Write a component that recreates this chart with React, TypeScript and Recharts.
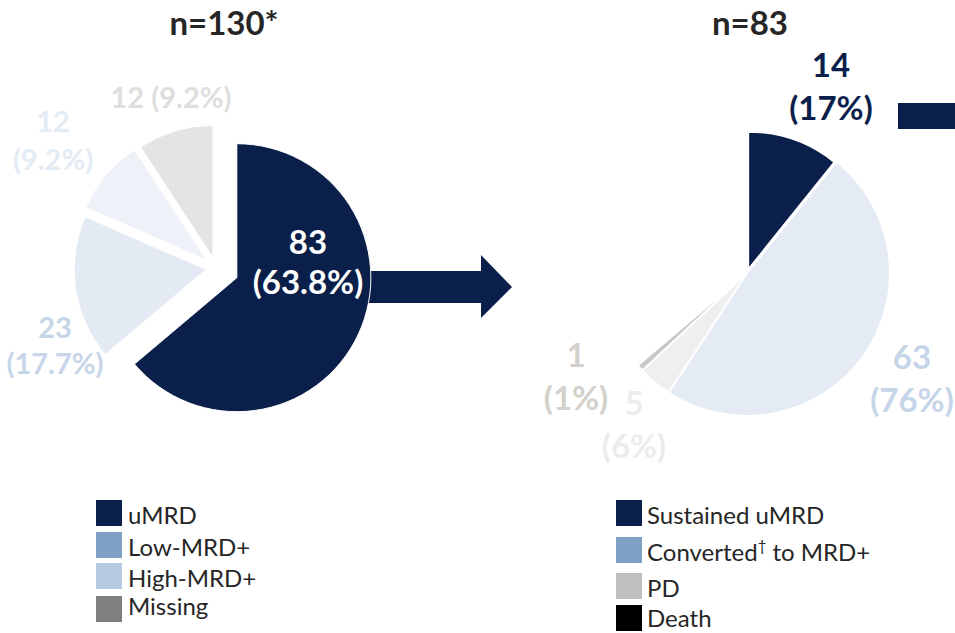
import React from 'react';
import { PieChart, Pie, Cell } from 'recharts';

const W = 955;
const H = 633;
const FONT = 'Lato, "Open Sans", sans-serif';
const NAVY = '#0b1f4b';
const INK = '#262626';

// Baseline MRD status of all evaluable patients
const baselineCategories = ['uMRD', 'Low-MRD+', 'High-MRD+', 'Missing'];
const baselineCounts = [83, 23, 12, 12];

// Outcome of the patients who were uMRD at baseline
const followCategories = ['Sustained uMRD', 'Converted† to MRD+', 'PD', 'Death'];
const followCounts = [14, 63, 5, 1];

const baselineLegendColors = [NAVY, '#7fa1c5', '#b5c9df', '#7f7f7f'];
const followLegendColors = [NAVY, '#7fa1c5', '#bfbfbf', '#000000'];
const baselineSliceColors = [NAVY, '#e4eaf3', '#eef2f8', '#e4e4e4'];
const followSliceColors = [NAVY, '#e4ebf4', '#efefef', '#c8c8c8'];
const baselineLabelColors = ['#ffffff', '#c6d5e8', '#e3ebf5', '#dedede'];
const followLabelColors = [NAVY, '#c6d5e8', '#ececec', '#d4d0cb'];

const sum = (a: number[]) => a.reduce((s, v) => s + v, 0);
const baselineTotal = sum(baselineCounts);
const followTotal = sum(followCounts);

type LabelSpot = { x: number; y: number[]; size: number; oneLine?: boolean };

type PieSpec = {
  key: string;
  categories: string[];
  counts: number[];
  sliceColors: string[];
  labelColors: string[];
  cx: number;
  cy: number;
  radius: number[];
  explode: number[];
  strokeWidth: number;
  decimals: number;
  labels: LabelSpot[];
};

const pies: PieSpec[] = [
  {
    key: 'baseline',
    categories: baselineCategories,
    counts: baselineCounts,
    sliceColors: baselineSliceColors,
    labelColors: baselineLabelColors,
    cx: 216,
    cy: 268,
    radius: [134, 132, 132, 132],
    explode: [23, 10, 12, 11],
    strokeWidth: 1,
    decimals: 1,
    labels: [
      { x: 308, y: [254, 294], size: 33 },
      { x: 55, y: [338, 374], size: 29 },
      { x: 53, y: [132, 170], size: 29 },
      { x: 171, y: [108], size: 29, oneLine: true },
    ],
  },
  {
    key: 'follow',
    categories: followCategories,
    counts: followCounts,
    sliceColors: followSliceColors,
    labelColors: followLabelColors,
    cx: 747,
    cy: 273,
    radius: [138, 143, 143, 143],
    explode: [3.5, 0, 0, 0],
    strokeWidth: 2,
    decimals: 0,
    labels: [
      { x: 831, y: [77, 120], size: 33 },
      { x: 912, y: [369, 412], size: 33 },
      { x: 634, y: [415, 458], size: 33 },
      { x: 576, y: [367, 410], size: 33 },
    ],
  },
];

// Both pies share the angular scale of the full cohort, so the
// follow-up pie only sweeps the uMRD share of the circle.
const sweepOf = (counts: number[]) => (360 * sum(counts)) / baselineTotal;

function renderPies(spec: PieSpec) {
  const rows = spec.categories.map((name, i) => ({ name, value: spec.counts[i] }));
  const sweep = sweepOf(spec.counts);
  let before = 0;
  return spec.categories.map((name, i) => {
    const midDeg = ((before + spec.counts[i] / 2) / baselineTotal) * 360;
    before += spec.counts[i];
    const rad = (midDeg * Math.PI) / 180;
    const cx = spec.cx + spec.explode[i] * Math.sin(rad);
    const cy = spec.cy - spec.explode[i] * Math.cos(rad);
    const spot = spec.labels[i];
    const renderLabel = (p: any) => {
      if (p.index !== i) return null;
      const pct = (p.percent * 100).toFixed(spec.decimals);
      const lines = spot.oneLine ? [`${p.value} (${pct}%)`] : [`${p.value}`, `(${pct}%)`];
      return (
        <g>
          {lines.map((t, k) => (
            <text
              key={k}
              x={spot.x}
              y={spot.y[k]}
              textAnchor="middle"
              fill={spec.labelColors[i]}
              fontFamily={FONT}
              fontWeight={700}
              fontSize={spot.size}
            >
              {t}
            </text>
          ))}
        </g>
      );
    };
    return (
      <Pie
        key={`${spec.key}-${name}`}
        data={rows}
        dataKey="value"
        nameKey="name"
        cx={cx}
        cy={cy}
        innerRadius={0}
        outerRadius={spec.radius[i]}
        startAngle={90}
        endAngle={90 - sweep}
        isAnimationActive={false}
        label={renderLabel}
        labelLine={false}
      >
        {rows.map((r, j) => (
          <Cell
            key={r.name}
            fill={j === i ? spec.sliceColors[j] : 'none'}
            stroke={j === i ? '#ffffff' : 'none'}
            strokeWidth={spec.strokeWidth}
          />
        ))}
      </Pie>
    );
  });
}

type LegendSpec = {
  x: number;
  textX: number;
  tops: number[];
  baselines: number[];
  names: string[];
  colors: string[];
};

const legends: LegendSpec[] = [
  {
    x: 96,
    textX: 128,
    tops: [500, 532, 563, 596],
    baselines: [524, 556, 587, 615],
    names: baselineCategories,
    colors: baselineLegendColors,
  },
  {
    x: 616,
    textX: 647,
    tops: [500, 537, 573, 605],
    baselines: [524, 561, 597, 627],
    names: followCategories,
    colors: followLegendColors,
  },
];

function LegendBlock({ spec }: { spec: LegendSpec }) {
  return (
    <g>
      {spec.names.map((name, i) => {
        const parts = name.split('†');
        return (
          <g key={name}>
            <rect x={spec.x} y={spec.tops[i]} width={26} height={26} fill={spec.colors[i]} />
            <text x={spec.textX} y={spec.baselines[i]} fill={INK} fontFamily={FONT} fontSize={24}>
              {parts[0]}
              {parts.length > 1 && (
                <tspan fontSize={15} dy={-10}>
                  †
                </tspan>
              )}
              {parts.length > 1 && <tspan dy={10}>{parts[1]}</tspan>}
            </text>
          </g>
        );
      })}
    </g>
  );
}

export default function App() {
  return (
    <div style={{ position: 'absolute', left: 0, top: 0, width: W, height: H, background: '#fff' }}>
      <svg width={W} height={H} style={{ position: 'absolute', left: 0, top: 0 }}>
        <polygon
          points="340,271 481,271 481,255 512,287 481,318 481,303 340,303"
          fill={NAVY}
        />
        <rect x={898} y={103} width={57} height={26} fill={NAVY} />
      </svg>
      <div style={{ position: 'absolute', left: 0, top: 0 }}>
        <PieChart width={W} height={H} margin={{ top: 0, right: 0, bottom: 0, left: 0 }}>
          {pies.flatMap((p) => renderPies(p))}
        </PieChart>
      </div>
      <svg width={W} height={H} style={{ position: 'absolute', left: 0, top: 0, pointerEvents: 'none' }}>
        <text x={224} y={35} textAnchor="middle" fill={INK} fontFamily={FONT} fontWeight={700} fontSize={33}>
          {`n=${baselineTotal}*`}
        </text>
        <text x={750} y={35} textAnchor="middle" fill={INK} fontFamily={FONT} fontWeight={700} fontSize={33}>
          {`n=${followTotal}`}
        </text>
        {legends.map((l, i) => (
          <LegendBlock key={i} spec={l} />
        ))}
      </svg>
    </div>
  );
}
